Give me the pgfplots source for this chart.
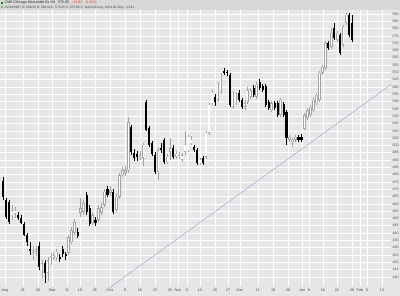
\documentclass[border=0pt]{standalone}
\usepackage{fontspec}
\setmainfont{Liberation Sans}
\usepackage{pgfplots}
\pgfplotsset{compat=1.18}
\usepackage{pgfplotstable}
\definecolor{bgc}{HTML}{E6E6E6}
\definecolor{hdr}{HTML}{D8D8D8}
\definecolor{upc}{HTML}{A4A4A4}
\definecolor{trend}{HTML}{A6A6DA}
\definecolor{labc}{HTML}{505050}
\definecolor{chg}{HTML}{E03030}

% down (black) candles: index open high low close
\pgfplotstableread{
i o h l c
0 475.6 478.0 462.6 464.7
1 462.6 464.0 449.6 451.0
2 461.2 462.6 446.0 447.5
5 452.3 454.4 448.9 450.3
6 450.3 452.3 446.2 446.8
7 446.2 447.5 437.9 438.6
8 438.6 440.0 431.1 433.8
9 429.0 433.8 424.9 427.7
12 431.1 433.8 414.6 416.7
14 419.4 421.5 405.9 412.6
19 423.5 425.6 420.1 422.2
20 429.0 431.1 423.5 425.6
21 425.6 427.0 421.5 424.2
25 440.7 443.4 436.5 437.9
28 466.0 468.0 452.3 454.4
29 457.1 459.2 444.8 446.2
31 448.9 451.0 444.8 446.8
35 470.1 472.2 464.7 466.0
37 468.1 470.1 453.0 454.4
43 512.6 514.0 493.4 495.5
44 494.8 497.5 489.3 491.4
45 494.1 496.2 489.3 492.1
48 529.7 531.1 510.0 510.5
49 511.9 513.3 498.9 500.3
50 501.6 503.0 492.8 494.1
51 493.4 495.5 480.4 481.8
53 498.2 501.6 494.8 496.8
54 503.7 505.1 487.2 488.6
57 498.2 500.3 490.7 492.1
64 498.9 500.3 495.5 496.8
65 496.8 498.2 486.6 487.9
67 491.4 492.8 486.6 487.9
71 533.2 535.2 527.0 529.7
74 550.9 553.0 548.2 549.6
75 550.3 551.6 547.5 549.6
76 548.2 549.6 526.3 527.7
79 535.9 537.9 529.7 531.1
80 531.1 532.5 524.9 526.3
84 539.3 541.4 533.2 534.5
86 543.4 545.5 538.0 539.3
87 540.7 542.0 536.6 537.9
88 540.7 542.0 526.3 527.7
89 529.7 531.1 524.2 525.6
91 529.0 530.4 524.2 525.6
92 529.0 530.4 519.5 520.8
94 528.4 529.7 519.5 520.8
95 522.9 524.2 500.3 505.1
99 505.8 507.2 502.3 503.7
100 505.8 507.9 502.3 503.7
109 570.1 571.5 565.3 566.7
111 580.4 583.8 572.2 573.6
113 575.6 577.0 561.9 563.3
116 589.3 590.7 574.2 575.6
117 583.8 589.3 570.8 572.2
}\down

% up (hollow) candles: index open high low close
\pgfplotstableread{
i o h l c
3 452.3 459.2 448.9 454.4
4 453.0 457.8 450.3 455.1
10 426.3 431.1 421.5 428.3
11 427.0 431.1 424.2 429.0
13 414.6 421.5 409.0 419.4
15 412.6 423.5 407.0 421.5
16 420.1 426.3 418.0 424.2
17 422.9 427.0 421.5 424.9
18 423.5 429.0 421.5 427.0
22 426.3 438.6 424.9 437.2
23 433.8 444.0 432.5 442.0
24 440.0 449.6 438.6 447.5
26 453.7 464.0 451.0 457.1
27 454.4 462.6 452.3 460.5
30 446.8 454.4 445.5 452.3
32 448.9 459.2 447.5 457.1
33 453.7 460.5 452.3 457.8
34 459.2 470.1 457.8 468.1
36 467.4 472.2 465.3 469.4
38 455.8 466.7 454.4 464.7
39 464.7 481.1 463.3 479.7
40 479.7 485.2 478.3 483.1
41 481.1 485.9 479.0 483.1
42 483.1 519.5 481.1 516.0
46 492.1 496.2 490.0 493.4
47 491.4 501.6 485.9 500.3
52 481.8 498.2 476.3 496.8
55 488.6 494.1 487.2 492.1
56 495.5 505.0 490.0 498.2
58 492.1 496.2 490.7 494.1
59 492.1 495.5 490.7 493.4
60 490.0 494.8 488.6 493.4
61 495.5 510.0 493.4 500.3
62 496.8 507.2 495.5 505.8
63 501.6 506.5 500.3 503.7
66 487.9 491.4 486.6 490.0
68 492.1 510.0 490.7 508.5
69 508.5 529.0 507.2 527.7
70 529.0 537.9 527.7 535.9
72 531.1 543.4 529.7 541.4
73 536.6 549.6 535.2 548.2
77 526.3 537.2 524.9 535.9
78 529.0 536.6 527.7 534.5
81 526.3 531.1 524.2 529.0
82 529.7 540.0 528.4 537.9
83 533.2 539.3 531.8 537.9
85 533.2 543.4 531.8 541.4
90 524.2 530.4 522.9 529.0
93 520.8 532.5 519.5 531.1
96 503.7 507.2 502.3 505.8
97 502.3 505.1 498.9 503.7
98 503.7 507.2 502.3 505.8
101 511.5 522.2 510.5 520.8
102 518.8 525.6 517.4 524.2
103 520.8 527.7 519.5 526.3
104 524.2 532.5 522.9 531.1
105 529.0 535.9 527.7 534.5
106 531.1 551.0 529.7 549.6
107 549.6 555.0 548.2 553.7
108 553.0 571.5 551.6 570.1
110 567.4 580.4 566.0 577.0
112 572.2 578.4 570.8 577.0
114 568.8 582.5 567.4 581.1
115 583.8 590.7 582.5 589.3
}\up

\begin{document}
\begin{tikzpicture}
\useasboundingbox (0bp,-10bp) rectangle (400bp,286bp);
\fill[bgc] (0bp,-10bp) rectangle (400bp,286bp);
\fill[hdr] (0bp,276bp) rectangle (400bp,286bp);
\fill[green!55!black] (1bp,281.8bp) rectangle (3.4bp,284.2bp);
\node[anchor=west, inner sep=0pt, font=\fontsize{3.6}{4}\selectfont, text=black!85] at (4.5bp,283bp)
  {CME Chicago Mercantile Ex Hd \ \ 575.85 \ \ \textcolor{chg}{-13.81 \ \ -2.31\%}};
\node[anchor=west, inner sep=0pt, font=\fontsize{3.2}{3.6}\selectfont, text=black!75] at (1bp,278.4bp)
  {D: 02/13/2007 O: 588.50 H: 590.64 L: 573.05 C: 575.85 V: 1143200 Avg: 1054.20 Chg: -13.81};
\begin{axis}[
  at={(0bp,0bp)}, anchor=south west,
  scale only axis, width=391bp, height=276bp,
  xmin=-1.005, xmax=130.0, ymin=403.7, ymax=592.7,
  clip=false,
  axis background/.style={fill=bgc},
  axis line style={draw=none},
  tick style={draw=none},
  major tick length=0pt,
  grid=major,
  major grid style={white, line width=0.45bp},
  ytick={410,415,...,590},
  yticklabel pos=right,
  /pgf/number format/assume math mode=true,
  /pgf/number format/.cd, fixed, precision=0, 1000 sep={}, /pgfplots/.cd,
  yticklabel style={font=\fontsize{3.6}{4}\selectfont, text=labc, anchor=west, inner sep=0pt, xshift=1.5bp},
  xtick={6.70,11.73,21.44,25.80,30.82,40.87,45.90,50.92,55.95,61.64,66.0,71.0,75.4,85.4,90.5,95.5,102.5,107.2,111.9,116.9,122.0,127.0},
  xticklabels={21,28,11,18,25,9,16,23,30,6,13,20,27,11,18,26,8,16,22,29,5,12},
  extra x ticks={0.67,16.42,35.85,58.63,79.4,100.2,119.6},
  extra x tick labels={Aug,Sep,Oct,Nov,Dec,Jan,Feb},
  extra x tick style={grid=major, major grid style={white, line width=0.9bp}},
  xticklabel style={font=\fontsize{3.8}{4}\selectfont, text=labc, anchor=north, inner sep=0pt, yshift=-2.5bp},
]
% trend line
\addplot[trend, line width=0.5bp] coordinates {(34.2,400.3) (130.0,541.6)};
% down candles: wicks and bodies
\addplot[draw=none, mark=none, error bars/.cd, y dir=plus, y explicit, error mark=none,
  error bar style={draw=black, line width=0.5bp}]
  table[x=i, y=l, y error expr=\thisrow{h}-\thisrow{l}] {\down};
\addplot[draw=none, mark=none, error bars/.cd, y dir=plus, y explicit, error mark=none,
  error bar style={draw=black, line width=2.1bp}]
  table[x=i, y=c, y error expr=\thisrow{o}-\thisrow{c}] {\down};
% up candles: wicks and hollow bodies
\addplot[draw=none, mark=none, error bars/.cd, y dir=plus, y explicit, error mark=none,
  error bar style={draw=upc, line width=0.5bp}]
  table[x=i, y=l, y error expr=\thisrow{h}-\thisrow{l}] {\up};
\addplot[draw=none, mark=none, error bars/.cd, y dir=plus, y explicit, error mark=none,
  error bar style={draw=upc, line width=2.4bp}]
  table[x=i, y=o, y error expr=\thisrow{c}-\thisrow{o}] {\up};
\addplot[draw=none, mark=none, error bars/.cd, y dir=plus, y explicit, error mark=none,
  error bar style={draw=white, line width=1.2bp}]
  table[x=i, y expr=\thisrow{o}+0.35, y error expr={max(\thisrow{c}-\thisrow{o}-0.7,0)}] {\up};
\end{axis}
\end{tikzpicture}
\end{document}
